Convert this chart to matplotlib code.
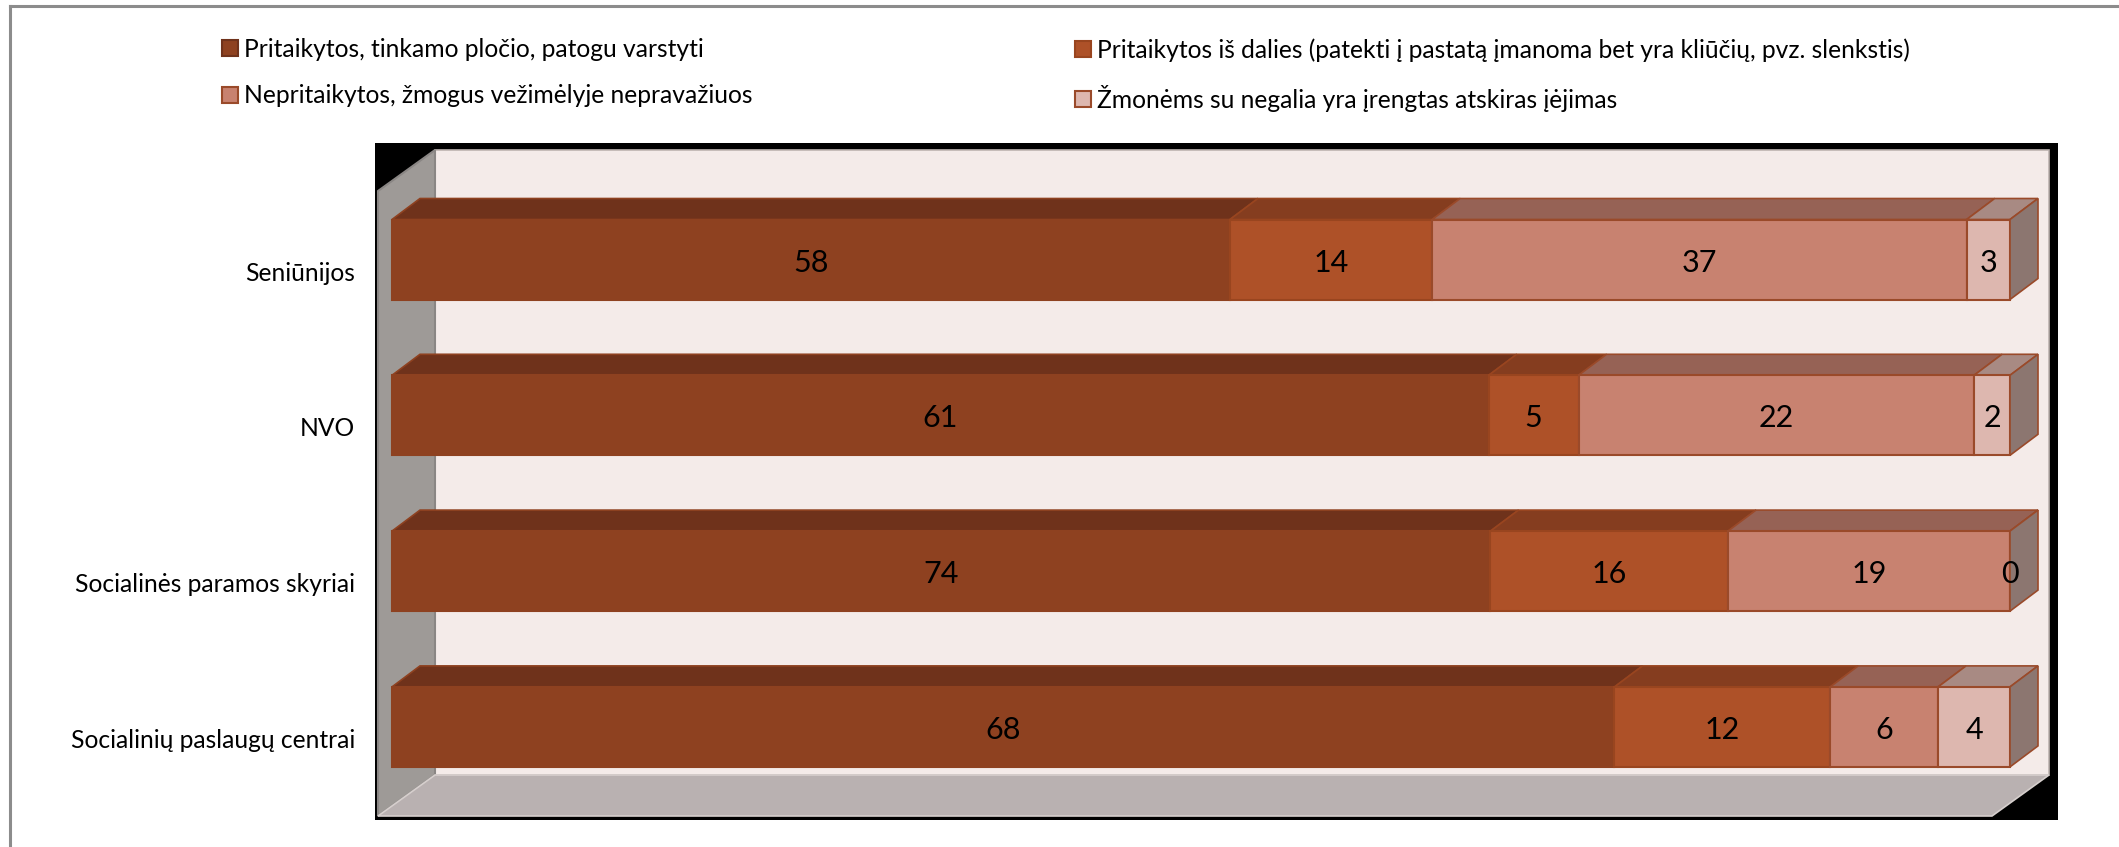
import numpy as np
import matplotlib
matplotlib.use("Agg")
import matplotlib.pyplot as plt
from matplotlib.patches import Polygon, Patch
from matplotlib.lines import Line2D

plt.rcParams['font.family'] = ['Lato', 'DejaVu Sans']

# data
categories = ["Seniūnijos", "NVO", "Socialinės paramos skyriai", "Socialinių paslaugų centrai"]
series_names = [
    "Pritaikytos, tinkamo pločio, patogu varstyti",
    "Pritaikytos iš dalies (patekti į pastatą įmanoma bet yra kliūčių, pvz. slenkstis)",
    "Nepritaikytos, žmogus vežimėlyje nepravažiuos",
    "Žmonėms su negalia yra įrengtas atskiras įėjimas",
]
s1 = [58, 61, 74, 68]
s2 = [14, 5, 16, 12]
s3 = [37, 22, 19, 6]
s4 = [3, 2, 0, 4]

# colours
front_cols = ["#8E4120", "#AE5128", "#C88270", "#DDB7AF"]
top_cols = ["#6F321B", "#853D1F", "#966255", "#A88A83"]
side_col = "#8C7670"
edge_cols = ["#8E4120", "#99451F", "#9A4A2A", "#9A4A2A"]

W, H, DPI = 2119, 847, 100
fig = plt.figure(figsize=(W / DPI, H / DPI), dpi=DPI)

# outer frame lines (top and left)
fig.add_artist(Line2D([10 / W, 10 / W], [0, 1 - 6 / H], color="#8C8C8C", lw=2.2))
fig.add_artist(Line2D([10 / W, 1], [1 - 6 / H, 1 - 6 / H], color="#8C8C8C", lw=2.2))

# plot area box (black background like the reference)
x0p, x1p, y0p, y1p = 375, 2058, 143, 820
ax = fig.add_axes([x0p / W, 1 - y1p / H, (x1p - x0p) / W, (y1p - y0p) / H])
ax.set_facecolor("black")
for sp in ax.spines.values():
    sp.set_visible(False)

px_x = 16.18   # pixels per percent
px_y = 155.8   # pixels per category
ax.set_xlim((x0p - 392) / px_x, (x1p - 392) / px_x)
ax.set_ylim((y1p - 259.5) / px_y, (y0p - 259.5) / px_y)

# 3d walls
wdx, wdy = 57 / px_x, 41 / px_y
lx = (378 - 392) / px_x
top_f = (191 - 259.5) / px_y
bot_f = (816 - 259.5) / px_y
rx = (2049 - 392) / px_x
back = Polygon([(lx + wdx, top_f - wdy), (rx, top_f - wdy), (rx, bot_f - wdy), (lx + wdx, bot_f - wdy)],
               closed=True, fc="#F4EBE9", ec="#BDB3B0", lw=1.2, zorder=0.5)
left = Polygon([(lx, top_f), (lx + wdx, top_f - wdy), (lx + wdx, bot_f - wdy), (lx, bot_f)],
               closed=True, fc="#9E9A97", ec="#8A8684", lw=1.5, zorder=0.6)
floor = Polygon([(lx, bot_f), (lx + wdx, bot_f - wdy), (rx, bot_f - wdy), (rx - wdx, bot_f)],
                closed=True, fc="#B9B1B1", ec="#D6CFCD", lw=1.2, zorder=0.6)
for p in (back, left, floor):
    ax.add_patch(p)

# stacked 100% bars
vals = np.array([s1, s2, s3, s4], dtype=float)
pct = vals / vals.sum(axis=0) * 100
y = np.arange(len(categories))
bh = 80 / px_y
bdx, bdy = 28 / px_x, 21 / px_y

lefts = np.zeros(len(categories))
for k in range(4):
    widths = pct[k]
    for i in range(len(categories)):
        xa, xb = lefts[i], lefts[i] + widths[i]
        yt = y[i] - bh / 2
        ax.add_patch(Polygon([(xa, yt), (xb, yt), (xb + bdx, yt - bdy), (xa + bdx, yt - bdy)],
                             closed=True, fc=top_cols[k], ec=edge_cols[k], lw=1.2, zorder=2))
    ax.barh(y, widths, left=lefts, height=bh, color=front_cols[k], edgecolor=edge_cols[k],
            linewidth=1.5, zorder=3)
    for i in range(len(categories)):
        ax.text(lefts[i] + widths[i] / 2, y[i] + 0.02, f"{int(vals[k, i])}", ha="center", va="center",
                fontsize=22, color="black", zorder=5)
    lefts = lefts + widths

# right side face of each bar
for i in range(len(categories)):
    xe = lefts[i]
    yt, yb = y[i] - bh / 2, y[i] + bh / 2
    ax.add_patch(Polygon([(xe, yt), (xe + bdx, yt - bdy), (xe + bdx, yb - bdy), (xe, yb)],
                         closed=True, fc=side_col, ec="#9A4A2A", lw=1.2, zorder=4))

ax.set_xticks([])
ax.set_yticks(y + 0.075)
ax.set_yticklabels(categories, fontsize=17.7)
ax.tick_params(axis="y", length=0, pad=14.4)

# legend in two columns
handles = [Patch(fc=front_cols[k], ec=edge_cols[k] if k else "#6F321B", lw=1.5) for k in range(4)]
common = dict(frameon=False, fontsize=17.7, handlelength=0.65, handleheight=0.62,
              handletextpad=0.25, labelspacing=0.95, borderaxespad=0, borderpad=0)
leg1 = fig.legend([handles[0], handles[2]], [series_names[0], series_names[2]],
                  loc="upper left", bbox_to_anchor=(222 / W, 1 - 38 / H), **common)
leg2 = fig.legend([handles[1], handles[3]], [series_names[1], series_names[3]],
                  loc="upper left", bbox_to_anchor=(1075 / W, 1 - 38 / H), **common)

fig.savefig("out.png", dpi=DPI, facecolor="white")
